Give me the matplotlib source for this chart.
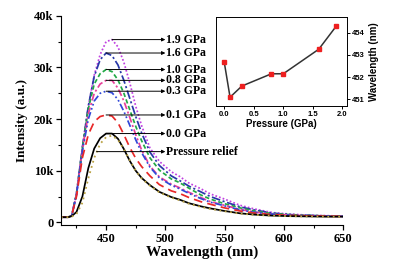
import matplotlib
matplotlib.use("Agg")
import matplotlib.pyplot as plt
from matplotlib.ticker import MultipleLocator, FuncFormatter

# emission spectra (intensity in counts)
wavelength = [412, 418, 421, 425, 430, 435, 440, 445, 450, 455, 460, 465, 470, 475, 480,
              487, 495, 505, 512, 520, 530, 538, 550, 563, 575, 590, 605, 620, 635, 650]

i_19 = [1.0, 1.0, 1.3, 5.5, 14.5, 22.5, 28.5, 32.5, 35.0, 35.4, 34.0, 31.0, 27.0, 22.5, 18.7,
        14.4, 11.8, 9.8, 8.9, 7.6, 6.5, 5.5, 4.5, 3.3, 2.6, 1.9, 1.6, 1.4, 1.3, 1.2]
i_16 = [1.0, 1.0, 1.3, 5.5, 14.5, 22.5, 28.3, 31.5, 32.8, 32.3, 30.5, 27.5, 24.0, 20.5, 17.3,
        13.6, 11.0, 9.0, 8.1, 7.0, 5.9, 5.0, 4.0, 3.0, 2.4, 1.8, 1.5, 1.35, 1.25, 1.2]
i_10 = [1.0, 1.0, 1.3, 5.5, 14.3, 22.0, 26.8, 28.8, 29.6, 29.2, 27.6, 25.0, 21.8, 18.6, 15.8,
        12.5, 10.1, 8.4, 7.7, 6.6, 5.3, 4.5, 3.6, 2.8, 2.2, 1.7, 1.5, 1.35, 1.25, 1.2]
i_08 = [1.0, 1.0, 1.3, 5.3, 14.0, 21.0, 25.0, 26.8, 27.5, 27.5, 26.0, 23.5, 20.3, 17.0, 14.0,
        10.9, 8.8, 7.4, 6.7, 5.8, 4.8, 4.0, 3.3, 2.5, 2.0, 1.6, 1.4, 1.3, 1.2, 1.15]
i_03 = [1.0, 1.0, 1.3, 5.3, 13.8, 20.0, 23.5, 25.0, 25.4, 25.1, 23.8, 21.5, 18.8, 16.0, 13.5,
        10.7, 8.6, 7.2, 6.5, 5.6, 4.6, 3.9, 3.2, 2.4, 1.95, 1.6, 1.4, 1.3, 1.2, 1.15]
i_01 = [1.0, 1.0, 1.3, 5.0, 12.5, 17.0, 19.5, 20.5, 20.8, 20.6, 19.3, 17.0, 14.5, 12.4, 10.8,
        9.0, 7.3, 6.1, 5.6, 4.8, 4.0, 3.5, 2.8, 2.2, 1.8, 1.5, 1.35, 1.25, 1.2, 1.15]
i_00 = [1.0, 1.0, 1.2, 2.0, 5.0, 10.5, 14.3, 16.3, 17.2, 17.2, 16.2, 14.2, 11.9, 10.0, 8.6,
        7.2, 5.9, 4.9, 4.4, 3.7, 3.1, 2.7, 2.2, 1.75, 1.5, 1.3, 1.2, 1.15, 1.1, 1.1]
i_relief = [1.0, 1.0, 1.1, 1.6, 3.8, 8.5, 12.5, 15.2, 16.5, 16.8, 16.0, 14.2, 12.0, 10.0, 8.5,
            7.1, 5.8, 4.8, 4.3, 3.6, 3.0, 2.6, 2.15, 1.7, 1.45, 1.3, 1.2, 1.15, 1.1, 1.1]

labels = ["1.9 GPa", "1.6 GPa", "1.0 GPa", "0.8 GPa", "0.3 GPa", "0.1 GPa", "0.0 GPa"]

# inset: peak position vs pressure
pressure = [0.0, 0.1, 0.3, 0.8, 1.0, 1.6, 1.9]
peak_wl = [452.7, 451.1, 451.6, 452.15, 452.15, 453.25, 454.3]

series = [i_19, i_16, i_10, i_08, i_03, i_01, i_00]
styles = [
    dict(color="#c040e0", ls=(0, (1, 1.2))),
    dict(color="#2838a8", ls=(0, (5, 1.5, 1.2, 1.5))),
    dict(color="#22a845", ls=(0, (2.5, 1.5))),
    dict(color="#e8409a", ls=(0, (4, 1.5, 1.2, 1.5))),
    dict(color="#3048d8", ls=(0, (4, 1.5, 1, 1.5, 1, 1.5))),
    dict(color="#e82828", ls=(0, (5, 3))),
    dict(color="black", ls="-"),
]

serif = "Liberation Serif"
sans = "Liberation Sans"

fig = plt.figure(figsize=(3.99, 2.64), dpi=100)
ax = fig.add_axes([0.153, 0.148, 0.707, 0.792])

for vals, st in zip(series, styles):
    ax.plot(wavelength, [v * 1000 for v in vals], lw=1.25, **st)
ax.plot(wavelength, [v * 1000 for v in i_relief], color="#b8a040", lw=1.3, ls=(0, (1, 2)))

ax.set_xlim(412, 650)
ax.set_ylim(-500, 40000)
ax.spines["top"].set_visible(False)
ax.spines["right"].set_visible(False)
ax.xaxis.set_major_locator(MultipleLocator(50))
ax.xaxis.set_minor_locator(MultipleLocator(25))
ax.yaxis.set_major_locator(MultipleLocator(10000))
ax.yaxis.set_minor_locator(MultipleLocator(5000))
ax.yaxis.set_major_formatter(FuncFormatter(lambda v, p: "0" if v == 0 else f"{int(v/1000)}k"))
ax.tick_params(which="major", length=3.5, width=0.9, pad=2)
ax.tick_params(which="minor", length=2, width=0.8)
for lab in ax.get_xticklabels() + ax.get_yticklabels():
    lab.set_fontfamily(serif)
    lab.set_fontweight("bold")
    lab.set_fontsize(9)
ax.set_xlabel("Wavelength (nm)", family=serif, weight="bold", fontsize=11, labelpad=1)
ax.set_ylabel("Intensity (a.u.)", family=serif, weight="bold", fontsize=9.5, labelpad=4)

# arrows from each peak to its label
arrow_end = 500
for vals, lab in zip(series, labels):
    k = vals.index(max(vals))
    y = vals[k] * 1000
    ax.annotate("", xy=(arrow_end, y), xytext=(wavelength[k], y),
                arrowprops=dict(arrowstyle="-|>", color="black", lw=0.7,
                                mutation_scale=5, shrinkA=0, shrinkB=0))
    ax.text(arrow_end + 0.5, y, lab, family=serif, weight="bold", fontsize=8.5,
            va="center", ha="left")
ax.annotate("", xy=(arrow_end, 13700), xytext=(442, 13700),
            arrowprops=dict(arrowstyle="-|>", color="black", lw=0.7,
                            mutation_scale=5, shrinkA=0, shrinkB=0))
ax.text(arrow_end + 0.5, 13700, "Pressure relief", family=serif, weight="bold",
        fontsize=8.5, va="center", ha="left")

# inset
ins = fig.add_axes([0.541, 0.598, 0.329, 0.338])
ins.plot(pressure, peak_wl, color="#333333", lw=1.1, marker="s", ms=2.5,
         mfc="#ee2020", mec="#ee2020")
ins.set_xlim(-0.14, 2.08)
ins.set_ylim(450.7, 454.7)
ins.xaxis.set_major_locator(MultipleLocator(0.5))
ins.yaxis.set_major_locator(MultipleLocator(1))
ins.yaxis.tick_right()
ins.yaxis.set_label_position("right")
ins.xaxis.set_major_formatter(FuncFormatter(lambda v, p: f"{v:.1f}"))
ins.yaxis.set_major_formatter(FuncFormatter(lambda v, p: f"{int(v)}"))
ins.tick_params(length=2, width=0.7, pad=1.5, labelsize=5.5)
for lab in ins.get_xticklabels() + ins.get_yticklabels():
    lab.set_fontfamily(sans)
    lab.set_fontweight("bold")
for s in ins.spines.values():
    s.set_linewidth(0.7)
ins.set_xlabel("Pressure (GPa)", family=sans, weight="bold", fontsize=7, labelpad=1)
ins.set_ylabel("Wavelength (nm)", family=sans, weight="bold", fontsize=7, labelpad=3)

fig.savefig("out.png", dpi=100)
